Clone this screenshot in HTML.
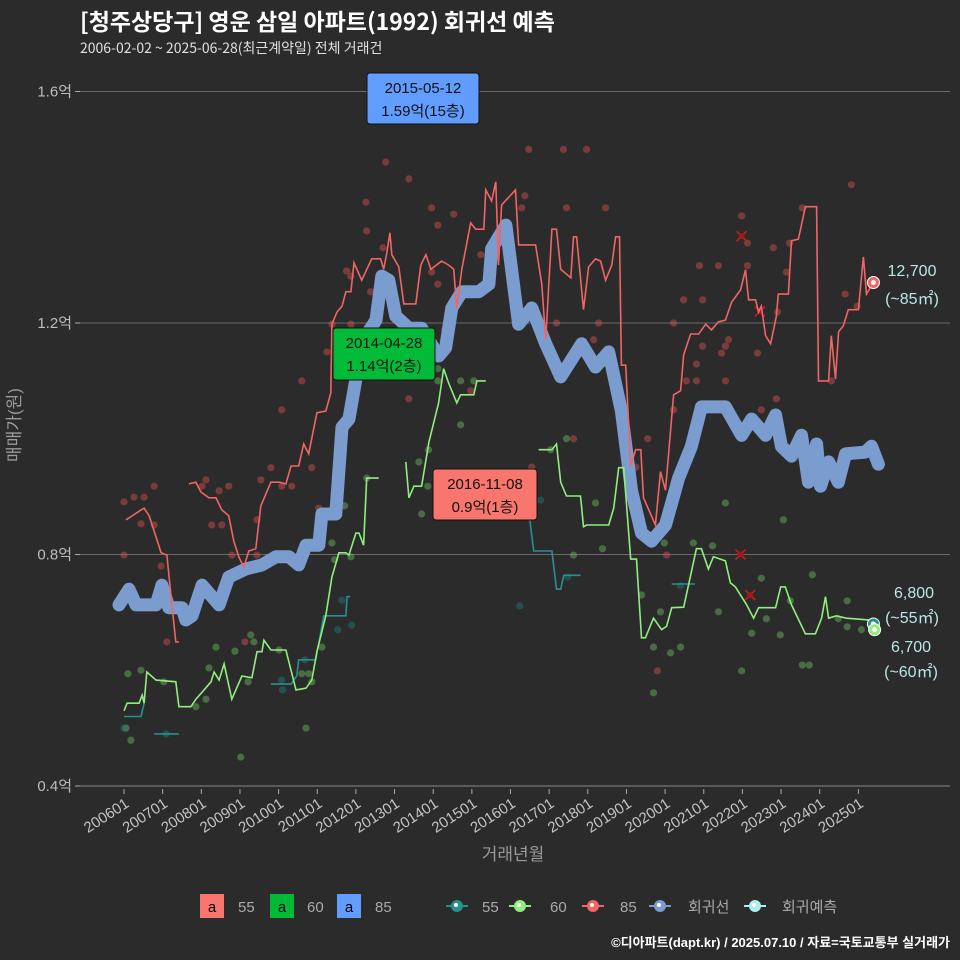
<!DOCTYPE html>
<html><head><meta charset="utf-8">
<style>
body{margin:0;background:#2b2b2b;}
svg{display:block;font-family:"Liberation Sans","Noto Sans CJK KR",sans-serif;}
</style></head>
<body>
<svg id="chart" width="960" height="960" viewBox="0 0 960 960">
<rect x="0" y="0" width="960" height="960" fill="#2b2b2b"/>
<text x="80" y="30" fill="#ffffff" font-size="23" font-weight="bold" font-family="'Noto Sans CJK KR','Liberation Sans',sans-serif">[청주상당구] 영운 삼일 아파트(1992) 회귀선 예측</text>
<text x="80" y="53" fill="#e0e0e0" font-size="14" font-family="'Noto Sans CJK KR','Liberation Sans',sans-serif">2006-02-02 ~ 2025-06-28(최근계약일) 전체 거래건</text>
<g id="grid"></g>
<g id="axes"></g>
<g id="dots"></g>
<g id="lines"></g>
<g id="marks"></g>
<text x="0" y="0" transform="translate(20,425) rotate(-90)" text-anchor="middle" fill="#9a9a9a" font-size="17">매매가(원)</text>
<text x="513" y="860" text-anchor="middle" fill="#9a9a9a" font-size="17">거래년월</text>

<g>
<rect x="200" y="894" width="24" height="24" fill="#f8766d"/>
<text x="212" y="912" text-anchor="middle" font-size="15" fill="#000">a</text>
<text x="238" y="912" font-size="15" fill="#aaaaaa">55</text>
<rect x="270" y="894" width="24" height="24" fill="#00ba38"/>
<text x="282" y="912" text-anchor="middle" font-size="15" fill="#000">a</text>
<text x="307" y="912" font-size="15" fill="#aaaaaa">60</text>
<rect x="337" y="894" width="24" height="24" fill="#619cff"/>
<text x="349" y="912" text-anchor="middle" font-size="15" fill="#000">a</text>
<text x="375" y="912" font-size="15" fill="#aaaaaa">85</text>

<g><line x1="446" y1="906" x2="468" y2="906" stroke="#2a8f8f" stroke-width="2"/><circle cx="457" cy="906" r="6" fill="#2a8f8f"/><circle cx="456" cy="905" r="2" fill="#fff"/></g>
<text x="482" y="912" font-size="15" fill="#aaaaaa">55</text>
<g><line x1="509" y1="906" x2="531" y2="906" stroke="#90ee7e" stroke-width="2"/><circle cx="520" cy="906" r="6" fill="#90ee7e"/><circle cx="519" cy="905" r="2" fill="#fff"/></g>
<text x="550" y="912" font-size="15" fill="#aaaaaa">60</text>
<g><line x1="582" y1="906" x2="604" y2="906" stroke="#f06565" stroke-width="2"/><circle cx="593" cy="906" r="6" fill="#f06565"/><circle cx="592" cy="905" r="2" fill="#fff"/></g>
<text x="620" y="912" font-size="15" fill="#aaaaaa">85</text>
<g><line x1="649" y1="906" x2="671" y2="906" stroke="#7b9ccf" stroke-width="2"/><circle cx="660" cy="906" r="6" fill="#7b9ccf"/><circle cx="659" cy="905" r="2" fill="#fff"/></g>
<text x="688" y="912" font-size="15" fill="#aaaaaa">회귀선</text>
<g><line x1="744" y1="906" x2="766" y2="906" stroke="#aeeeee" stroke-width="2"/><circle cx="755" cy="906" r="6" fill="#aeeeee"/><circle cx="754" cy="905" r="2" fill="#fff"/></g>
<text x="782" y="912" font-size="15" fill="#aaaaaa">회귀예측</text>
</g>
<text x="950" y="947" text-anchor="end" font-size="13" font-weight="bold" fill="#ffffff">©디아파트(dapt.kr) / 2025.07.10 / 자료=국토교통부 실거래가</text>
</svg>
<script>
// ---- data ----
const yTicks = [4000, 8000, 12000, 16000];
const yTickLabels = ["0.4억", "0.8억", "1.2억", "1.6억"];
const xTickYears = [2006,2007,2008,2009,2010,2011,2012,2013,2014,2015,2016,2017,2018,2019,2020,2021,2022,2023,2024,2025];
const xTickLabels = ["200601","200701","200801","200901","201001","201101","201201","201301","201401","201501","201601","201701","201801","201901","202001","202101","202201","202301","202401","202501"];

const regT = [2005.87,2006.13,2006.31,2006.83,2006.98,2007.16,2007.50,2007.60,2007.76,2008.02,2008.46,2008.71,2009.15,2009.57,2009.93,2010.27,2010.52,2010.71,2011.04,2011.12,2011.48,2011.64,2011.82,2012.00,2012.26,2012.52,2012.67,2012.85,2013.03,2013.37,2013.70,2014.14,2014.32,2014.48,2014.74,2015.18,2015.44,2015.51,2015.88,2016.21,2016.55,2016.91,2017.30,2017.84,2018.20,2018.54,2018.87,2019.13,2019.39,2019.65,2020.01,2020.35,2020.68,2020.94,2021.56,2021.98,2022.24,2022.60,2022.86,2023.01,2023.27,2023.53,2023.71,2023.92,2024.02,2024.23,2024.48,2024.67,2025.18,2025.34,2025.52];
const regV = [7130,7400,7130,7130,7470,7080,7080,6870,6940,7470,7130,7610,7750,7820,7960,7960,7820,8160,8160,8700,8700,10200,10340,11030,11780,12050,12810,12740,12120,11910,11910,11430,11570,12260,12540,12540,12670,13280,13690,11980,12260,11640,11070,11640,11240,11500,10480,9110,8370,8230,8510,9320,9870,10550,10550,10060,10340,10060,10410,9870,9700,10060,9250,9910,9180,9600,9250,9740,9770,9870,9560];

const s85T = [2006.05,2006.13,2006.44,2006.52,2006.65,2006.83,2006.96,2007.11,2007.24,2007.34,2007.42,null,2007.68,2007.86,2007.99,2008.20,2008.38,2008.53,2008.71,2008.84,2008.97,2009.10,2009.23,2009.41,2009.54,2009.80,2010.01,2010.19,2010.32,2010.52,2010.65,2010.78,2010.99,2011.22,2011.35,2011.38,2011.51,2011.64,2011.74,2011.87,2011.95,2012.15,2012.41,2012.64,2012.72,2012.80,2012.88,2012.93,2013.11,2013.24,2013.55,2013.68,2013.81,2013.94,2014.22,2014.40,2014.53,2014.61,2014.74,2014.84,2014.97,2015.10,2015.31,2015.36,2015.51,2015.62,2015.69,2015.77,2016.13,2016.21,2016.65,2016.81,2016.91,2017.07,2017.19,2017.30,2017.56,2017.63,2017.71,2017.89,2018.02,2018.20,2018.33,2018.46,2018.62,2018.72,2018.82,2018.87,2018.98,2019.11,2019.24,2019.37,2019.44,2019.75,2019.88,2020.01,2020.22,2020.40,2020.48,2020.66,2020.87,2021.05,2021.20,2021.38,2021.56,2021.72,2021.95,2022.08,2022.16,2022.34,2022.42,2022.49,2022.60,2022.73,2022.88,2022.93,2023.19,2023.27,2023.45,2023.63,2023.92,2023.97,2024.23,2024.30,2024.41,2024.49,2024.61,2024.74,2025.00,2025.13,2025.21,2025.39];
const s85V = [8600,8630,8770,8800,8670,8300,8030,7990,7130,6490,6490,null,9220,9250,9080,8980,8980,8770,8670,8230,7960,7780,8060,8100,8840,9250,9250,9220,9530,9530,9910,9740,10450,10480,10790,11980,12190,12290,12540,12540,13040,12740,13110,13110,12930,13210,13560,13180,12970,12330,12330,13000,13180,12930,13070,13000,12930,12260,12930,13280,13730,13620,13620,14300,14110,14440,13000,14040,14300,13350,13350,12670,11710,13620,13620,12930,12780,13490,13490,12230,12970,13110,13070,12740,13000,13490,13490,11270,11270,9530,9810,9810,8980,8510,9430,9110,10760,10830,11450,11810,11810,11980,11880,12020,12050,12360,12570,12920,12400,12400,12190,12290,11780,11640,12120,12500,12500,13420,13450,14010,14010,11000,11000,11780,11030,11850,11950,12230,12230,13140,12500,12700];

const s60T = [2006.00,2006.08,2006.39,2006.47,2006.52,2006.59,2006.83,2007.34,2007.42,2007.73,2007.86,2008.02,2008.25,2008.33,2008.46,2008.59,2008.79,2009.05,2009.31,2009.44,2009.57,2009.62,2009.80,2010.19,2010.45,2010.71,2010.86,2010.99,2011.22,2011.38,2011.56,2011.74,2011.82,2012.00,2012.08,2012.20,2012.28,2012.59,null,2013.29,2013.37,2013.50,2013.70,2013.89,2014.14,2014.27,2014.40,2014.61,2014.71,2015.05,2015.13,2015.36,null,2016.73,2017.07,2017.19,2017.30,2017.45,2017.81,2017.89,2017.97,2018.54,2018.67,2018.80,2018.93,2019.11,2019.26,2019.39,2019.49,2019.70,2019.91,2020.04,2020.17,2020.48,2020.81,2020.94,2021.12,2021.25,2021.56,2021.69,2021.82,2022.11,2022.29,2022.42,2022.86,2022.99,2023.11,2023.27,2023.63,2023.89,2024.05,2024.15,2024.23,2024.43,2024.69,2025.26,2025.39];
const s60V = [5300,5430,5430,5570,5430,5970,5830,5800,5370,5370,5500,5620,5800,5970,5830,6110,5500,5900,5870,6320,6320,6520,6350,6350,5660,5690,5830,6320,6940,7610,8030,8030,7990,8370,8370,8160,9320,9320,null,9600,8980,9180,9180,9940,10620,11210,10960,10620,10760,10760,11000,11000,null,9810,9810,9910,9250,9010,9010,8480,8510,8510,8800,9500,9500,7920,7920,6560,6560,6900,6700,6760,7080,7090,8100,8100,7750,7960,7890,7510,7440,7130,6900,7080,7080,7440,7440,7130,6630,6630,6900,7270,6900,6940,6900,6870,6700];

const s55T = [2006.00,2006.44,2006.52,null,2006.78,2007.42,null,2009.80,2010.32,2010.47,2010.52,2010.96,2011.17,2011.74,2011.77,2011.85,null,2016.50,2016.60,2017.07,2017.19,2017.30,2017.38,2017.81,null,2020.17,2020.77];
const s55V = [5200,5200,5430,null,4900,4900,null,5760,5760,5900,6180,6180,6940,6940,7270,7270,null,8600,8060,8060,7400,7400,7640,7640,null,7490,7490];

const dots85T = [2006.00,2006.26,2006.52,2006.78,2006.44,2006.78,2006.00,2006.96,2007.11,2008.12,2008.02,2008.46,2008.71,2008.27,2008.53,2008.79,2009.44,2009.44,2009.54,2009.80,2010.08,2010.34,2010.86,2010.08,2010.60,2011.04,2011.25,2011.38,2011.87,2011.76,2011.87,2012.26,2012.28,2012.38,2012.70,2012.77,2013.37,2013.37,2013.96,2014.12,2013.96,2014.12,2014.53,2015.23,2014.97,2014.30,2009.13,2016.47,2017.37,2017.97,2016.37,2016.29,2017.45,2018.46,2017.19,2018.28,2018.15,2017.63,2016.55,2019.24,2019.55,2020.04,2019.80,2020.22,2020.22,2020.48,2020.97,2020.89,2021.38,2022.13,2021.98,2022.13,2022.80,2023.22,2023.14,2023.55,2024.82,2024.66,2024.97,2022.91,2020.97,2021.64,2021.56,2021.46,2022.39,2020.81,2020.55,2020.81,2021.56,2022.88,2022.49,2024.30];
const dots85V = [8910,8990,8990,9180,8530,8510,7990,7800,6490,9290,9180,9100,9180,8510,8510,7990,8600,7990,9290,9500,9180,9180,9500,10500,11000,8800,11500,11980,11980,12900,12810,14090,13590,12540,13300,14780,14490,10690,13990,13690,12880,12670,13880,13180,10830,11880,6490,15000,15000,15000,14200,13990,13990,13990,12000,12000,11710,10000,9510,9510,10000,7990,5990,10500,12000,12400,12400,12990,12990,12990,13850,13380,13300,13380,12880,13990,14390,12500,12290,12190,11600,11710,11600,11480,11480,11290,11000,11000,11000,10690,10500,11000];

const dots60T = [2006.10,2006.44,2006.05,2006.18,2007.03,2007.86,2008.12,2008.20,2008.38,2008.87,2009.28,2009.36,2010.01,2009.02,2009.21,2010.71,2010.60,2010.78,2010.86,2011.12,2011.38,2011.45,2011.71,2011.87,2012.28,2013.63,2013.70,2013.86,2013.88,2014.12,2014.12,2014.71,2015.05,2014.71,2017.45,2017.04,2018.20,2018.38,2017.63,2019.39,2019.88,2019.70,2020.14,2020.40,2019.70,2019.98,2020.73,2021.23,2021.56,2023.06,2022.49,2021.38,2022.24,2022.62,2022.98,2023.24,2023.81,2021.98,2023.55,2023.73,2024.71,2024.71,2025.08,2024.48];
const dots60V = [5940,6000,5000,4790,5800,5370,5500,6040,6400,6330,6610,6490,6350,4500,5800,5000,5940,5940,5800,6400,8200,7910,8840,7960,9320,9600,8700,9180,9810,11210,11000,11000,11000,10240,10000,9810,8890,8100,7990,7300,7010,6400,6300,6400,5610,8200,8200,8150,8890,8600,7590,7010,6640,6890,6610,7200,7650,5990,6090,6090,7200,6750,6700,6890];

const dots55T = [2006.00,2007.09,2010.08,2010.10,2010.68,2011.53,2011.89,2011.64,2016.78,2016.24,2017.48,2020.40];
const dots55V = [5000,4900,5830,5660,6180,6700,6780,7210,8940,7110,7610,7460];

const crossT = [2021.98,2022.45,2021.95,2022.20];
const crossV = [13500,12200,8000,7300];

// ---- scales ----
const X0 = 124, XPY = 38.65, Y0 = 786, PPW = 231.5/4000;
function sx(t){ return X0 + (t - 2006) * XPY; }
function sy(v){ return Y0 - (v - 4000) * PPW; }

const NS = "http://www.w3.org/2000/svg";
function mk(tag, attrs, parent){
  const e = document.createElementNS(NS, tag);
  for (const k in attrs) e.setAttribute(k, attrs[k]);
  parent.appendChild(e);
  return e;
}
const grid = document.getElementById('grid');
const axes = document.getElementById('axes');
const dotsG = document.getElementById('dots');
const linesG = document.getElementById('lines');
const marksG = document.getElementById('marks');

yTicks.forEach(function(v, i){
  const gl = mk('line', {x1:80, x2:950, y1:sy(v), y2:sy(v), stroke:'#6a6a6a', 'stroke-width':1}, grid);
  
  
  const tk = mk('line', {x1:75, x2:80, y1:sy(v), y2:sy(v), stroke:'#aaaaaa', 'stroke-width':1}, axes);
  
  
  const tl = mk('text', {x:72, y:sy(v)+5, 'text-anchor':'end', fill:'#bdbdbd', 'font-size':15}, axes);
  tl.textContent = yTickLabels[i];
  
  
});
const xl = mk('line', {x1:80, x2:950, y1:786, y2:786, stroke:'#8a8a8a', 'stroke-width':1}, axes);


xTickYears.forEach(function(yr, i){
  const x = sx(yr);
  const tk = mk('line', {x1:x, x2:x, y1:789, y2:794, stroke:'#aaaaaa', 'stroke-width':1}, axes);
  
  
  const tl = mk('text', {x:0, y:0, 'text-anchor':'end', fill:'#c4c4c4', 'font-size':15, transform:'translate('+(x+6)+',806) rotate(-33)'}, axes);
  tl.textContent = xTickLabels[i];
  
  
});

function drawDots(T, V, color, name){
  for (let i = 0; i < T.length; i++){
    const c = mk('circle', {cx:sx(T[i]), cy:sy(V[i]), r:3.6, fill:color, 'fill-opacity':0.45}, dotsG);
    
    
  }
}
drawDots(dots85T, dots85V, '#d9534f', 'dot-85');
drawDots(dots60T, dots60V, '#6fbf5f', 'dot-60');
drawDots(dots55T, dots55V, '#1f7f7f', 'dot-55');

crossT.forEach(function(t, i){
  const x = sx(t), y = sy(crossV[i]);
  const g = mk('g', {stroke:'#c81e1e', 'stroke-width':1.6}, dotsG);
  
  
  mk('line', {x1:x-5, y1:y-5, x2:x+5, y2:y+5}, g);
  mk('line', {x1:x-5, y1:y+5, x2:x+5, y2:y-5}, g);
  mk('circle', {cx:x, cy:y, r:3, fill:'#a01818', stroke:'none'}, g);
});

function pathOf(T, V){
  let d = '', pen = false;
  for (let i = 0; i < T.length; i++){
    if (T[i] === null){ pen = false; continue; }
    d += (pen ? 'L' : 'M') + sx(T[i]).toFixed(1) + ',' + sy(V[i]).toFixed(1);
    pen = true;
  }
  return d;
}
const reg = mk('path', {d:pathOf(regT, regV), fill:'none', stroke:'#7b9ccf', 'stroke-width':13, 'stroke-linejoin':'round', 'stroke-linecap':'round'}, linesG);


const l55 = mk('path', {d:pathOf(s55T, s55V), fill:'none', stroke:'#2a8f8f', 'stroke-width':1.6}, linesG);


const l60 = mk('path', {d:pathOf(s60T, s60V), fill:'none', stroke:'#90ee7e', 'stroke-width':1.6}, linesG);


const l85 = mk('path', {d:pathOf(s85T, s85V), fill:'none', stroke:'#f06565', 'stroke-width':1.6}, linesG);



const endT = [2025.39, 2025.39, 2025.42];
const endV = [12700, 6800, 6700];
const endColors = ['#f06565', '#2a8f8f', '#90ee7e'];
endT.forEach(function(t, i){
  const c = mk('circle', {cx:sx(t), cy:sy(endV[i]), r:6, fill:endColors[i], stroke:'#ffffff', 'stroke-width':1}, marksG);
  
  
  const w = mk('circle', {cx:sx(t), cy:sy(endV[i]), r:2.5, fill:'#ffffff'}, marksG);
  
  
});

const rl = [[912,276,'12,700'],[912,304,'(~85㎡)'],[914,598,'6,800'],[912,623,'(~55㎡)'],[911,652,'6,700'],[911,677,'(~60㎡)']];
rl.forEach(function(r){
  const t = mk('text', {x:r[0], y:r[1], 'text-anchor':'middle', fill:'#b9e6e6', 'font-size':16}, marksG);
  t.textContent = r[2];
  
  
});

function callout(x, y, w, h, fill, l1, l2, name){
  const g = mk('g', {}, marksG);
  
  
  mk('rect', {x:x, y:y, width:w, height:h, rx:3, fill:fill, stroke:'#111', 'stroke-width':1}, g);
  const a = mk('text', {x:x+w/2, y:y+20, 'text-anchor':'middle', 'font-size':15, fill:'#111'}, g);
  a.textContent = l1;
  const b = mk('text', {x:x+w/2, y:y+43, 'text-anchor':'middle', 'font-size':15, fill:'#111'}, g);
  b.textContent = l2;
}
callout(367, 73, 112, 51, '#619cff', '2015-05-12', '1.59억(15층)', 'max-85-callout');
callout(333, 328, 102, 52, '#00ba38', '2014-04-28', '1.14억(2층)', 'max-60-callout');
callout(433, 469, 104, 51, '#f8766d', '2016-11-08', '0.9억(1층)', 'max-55-callout');
</script>
</body></html>
